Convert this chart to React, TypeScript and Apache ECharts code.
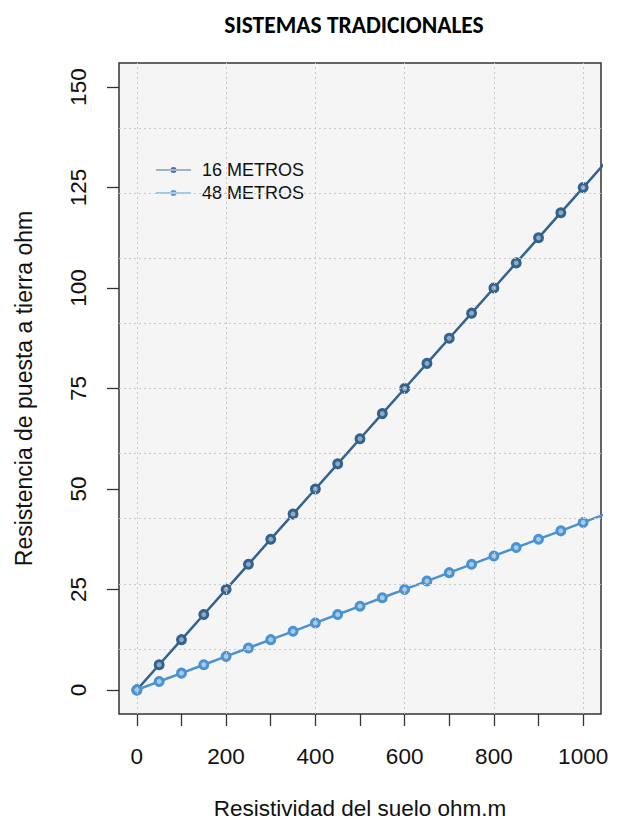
import React, { useEffect, useRef } from "react";
import * as echarts from "echarts";

const rho = [0, 50, 100, 150, 200, 250, 300, 350, 400, 450, 500, 550, 600, 650, 700, 750, 800, 850, 900, 950, 1000, 1050];
const r16 = [0, 6.25, 12.5, 18.75, 25, 31.25, 37.5, 43.75, 50, 56.25, 62.5, 68.75, 75, 81.25, 87.5, 93.75, 100, 106.25, 112.5, 118.75, 125, 131.25];
const r48 = [0, 2.08, 4.17, 6.25, 8.33, 10.42, 12.5, 14.58, 16.67, 18.75, 20.83, 22.92, 25, 27.08, 29.17, 31.25, 33.33, 35.42, 37.5, 39.58, 41.67, 43.75];
const seriesNames = ["16 METROS", "48 METROS"];
const xTicks = [0, 100, 200, 300, 400, 500, 600, 700, 800, 900, 1000];
const xLabels = [0, 200, 400, 600, 800, 1000];
const yTicks = [0, 25, 50, 75, 100, 125, 150];

const X_MIN = -40, X_MAX = 1040, Y_MIN = -6, Y_MAX = 156;
const DARK = "#33628d";
const DARK_FILL = "#8eaac4";
const LIGHT = "#4a92d0";
const LIGHT_FILL = "#a9cbe9";
const FONT = "'Liberation Sans', Arial, sans-serif";

export default function App() {
  const ref = useRef<HTMLDivElement>(null);
  useEffect(() => {
    if (!ref.current) return;
    const chart = echarts.init(ref.current, null, { renderer: "svg" });
    const hGrid: number[] = [];
    for (let k = 1; k < 10; k++) hGrid.push(Y_MIN + ((Y_MAX - Y_MIN) * k) / 10);
    const gridLineStyle = { color: "#c8c8c8", type: [2, 3] as any, width: 1 };
    const iconPath = "path://M0,2.5L35,2.5L35,3.5L0,3.5Z M14.5,3a3,3 0 1,0 6,0a3,3 0 1,0 -6,0Z";
    chart.setOption({
      animation: false,
      backgroundColor: "#ffffff",
      title: {
        text: "SISTEMAS TRADICIONALES",
        left: 349,
        top: 8,
        textAlign: "center",
        textStyle: { fontFamily: "Carlito, 'Open Sans', sans-serif", fontWeight: "bold", fontSize: 23.5, color: "#000" },
      },
      legend: {
        left: 151,
        top: 155,
        orient: "vertical",
        itemWidth: 35,
        itemHeight: 6,
        itemGap: 3,
        lineStyle: { width: 1.5 },
        data: [
          { name: seriesNames[0], icon: iconPath, itemStyle: { color: "#4d7199", borderWidth: 0 } },
          { name: seriesNames[1], icon: iconPath, itemStyle: { color: "#5b9ad3", borderWidth: 0 } },
        ],
        textStyle: { fontFamily: FONT, fontSize: 18, color: "#111", lineHeight: 20, padding: [0, 0, 0, 6] },
      },
      grid: {
        left: 119,
        right: 18,
        top: 63,
        bottom: 110,
        show: true,
        backgroundColor: "#f5f5f5",
        borderColor: "#333333",
        borderWidth: 1.5,
      },
      xAxis: {
        type: "value",
        min: X_MIN,
        max: X_MAX,
        name: "Resistividad del suelo ohm.m",
        nameLocation: "middle",
        nameGap: 83,
        nameTextStyle: { fontFamily: FONT, fontSize: 22.5, color: "#111" },
        axisLine: { show: false, onZero: false },
        axisTick: { show: true, inside: false, length: 12, customValues: xTicks, lineStyle: { color: "#333", width: 1.3 } },
        axisLabel: {
          customValues: xLabels,
          margin: 31,
          fontFamily: FONT,
          fontSize: 22.5,
          color: "#111",
          formatter: (v: number) => String(v),
        },
        splitLine: { show: false },
      },
      yAxis: {
        type: "value",
        min: Y_MIN,
        max: Y_MAX,
        name: "Resistencia de puesta a tierra ohm",
        nameLocation: "middle",
        nameGap: 84,
        nameRotate: 90,
        nameTextStyle: { fontFamily: FONT, fontSize: 23, color: "#111" },
        axisLine: { show: false, onZero: false },
        axisTick: { show: true, inside: false, length: 12, customValues: yTicks, lineStyle: { color: "#333", width: 1.3 } },
        axisLabel: {
          customValues: yTicks,
          rotate: 90,
          margin: 29,
          fontFamily: FONT,
          fontSize: 22.5,
          color: "#111",
          formatter: (v: number) => String(v),
        },
        splitLine: { show: false },
      },
      series: [
        {
          name: "grid",
          type: "line",
          data: [],
          z: 1,
          silent: true,
          markLine: {
            silent: true,
            symbol: "none",
            label: { show: false },
            lineStyle: gridLineStyle,
            data: [
              ...xLabels.map((v) => ({ xAxis: v })),
              ...hGrid.map((v) => ({ yAxis: v })),
            ],
          },
        },
        {
          name: seriesNames[0],
          type: "line",
          z: 3,
          data: rho.map((x, i) => [x, r16[i]]),
          symbol: "circle",
          symbolSize: 8,
          lineStyle: { color: DARK, width: 2.5 },
          itemStyle: { color: DARK_FILL, borderColor: DARK, borderWidth: 3 },
        },
        {
          name: seriesNames[1],
          type: "line",
          z: 4,
          data: rho.map((x, i) => [x, r48[i]]),
          symbol: "circle",
          symbolSize: 8,
          lineStyle: { color: LIGHT, width: 2.5 },
          itemStyle: { color: LIGHT_FILL, borderColor: LIGHT, borderWidth: 3 },
        },
      ],
    });
    return () => chart.dispose();
  }, []);
  return <div ref={ref} style={{ position: "fixed", left: 0, top: 0, width: 619, height: 825 }} />;
}
